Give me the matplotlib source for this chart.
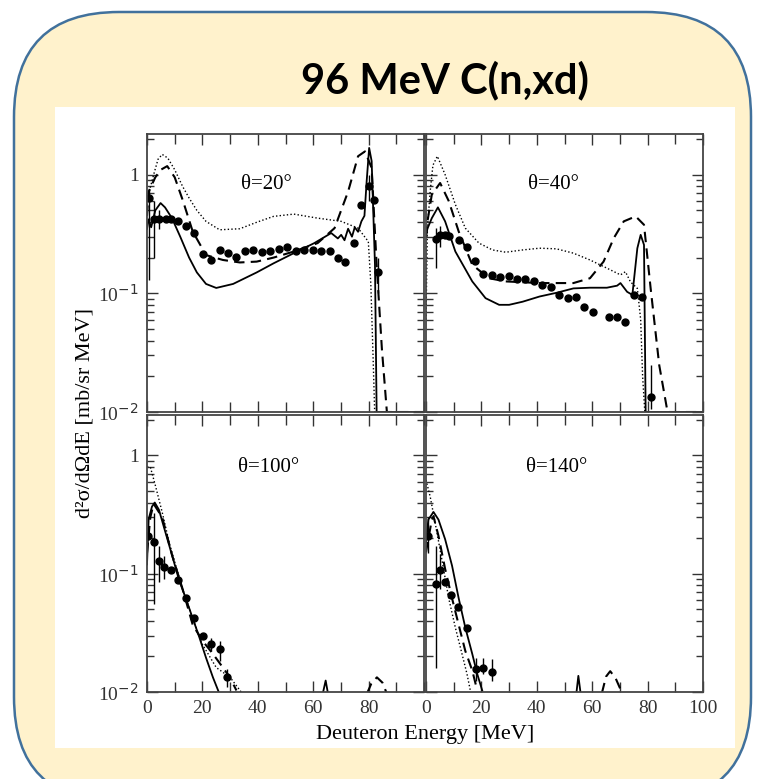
import matplotlib
matplotlib.use("Agg")
import matplotlib.pyplot as plt
from matplotlib.patches import FancyBboxPatch, Rectangle
from matplotlib.ticker import LogLocator, MultipleLocator, FixedFormatter, FixedLocator

plt.rcParams['font.family'] = ['Liberation Serif', 'DejaVu Serif']
nan = float('nan')

# --- dane: theta = 20 stopni ---
e20_dot = [0, 1, 2.4, 4, 5.5, 7.5, 10, 12.8, 15.2, 18, 21.3, 26.2, 33.5, 40, 45.7, 53, 61.6, 70.1, 76.2, 79.9, 80.8, 81.6, 82.2, 100]
s20_dot = [0.55, 0.75, 1.0, 1.35, 1.48, 1.38, 1.1, 0.8, 0.635, 0.5, 0.404, 0.343, 0.35, 0.4, 0.445, 0.465, 0.43, 0.404, 0.354, 0.273, 0.12, 0.03, 0.01, 0.01]
e20_dash = [0, 0.6, 3, 5, 7.3, 10, 13, 16.5, 21.3, 27.4, 33.5, 39.6, 45.7, 53, 61.6, 67.7, 72.6, 76.2, 78.7, 81.1, 82.9, 84.8, 86.6, 100]
s20_dash = [0.45, 0.72, 0.95, 1.1, 1.18, 0.95, 0.6, 0.332, 0.21, 0.191, 0.182, 0.185, 0.2, 0.225, 0.265, 0.354, 0.72, 1.43, 1.57, 1.14, 0.174, 0.034, 0.01, 0.01]
e20_sol = [0, 0.6, 1.5, 3, 4.9, 6.5, 9, 12, 15.2, 18, 21.3, 25, 31.1, 39.6, 45.7, 53, 60.4, 66.5, 68.9, 70.1, 71.3, 72.6, 74, 75, 76.2, 77.4, 78.5, 79.3, 80.2, 81.1, 82.3, 82.9, 100]
s20_sol = [0.35, 0.42, 0.36, 0.5, 0.576, 0.53, 0.43, 0.3, 0.2, 0.15, 0.12, 0.111, 0.12, 0.15, 0.179, 0.218, 0.265, 0.322, 0.29, 0.311, 0.28, 0.35, 0.3, 0.36, 0.33, 0.404, 0.45, 0.88, 1.68, 1.3, 0.174, 0.01, 0.01]
e20_pkt = [0.6, 2.4, 4.5, 6.7, 8.5, 11.3, 14.0, 17.1, 20.1, 23.2, 26.2, 29.3, 32.3, 35.4, 38.4, 41.5, 44.5, 47.6, 50.6, 53.7, 56.7, 59.8, 62.8, 65.9, 68.9, 71.3, 74.6, 77.4, 80.2, 82.0, 83.5]
s20_pkt = [0.635, 0.425, 0.425, 0.425, 0.425, 0.409, 0.371, 0.322, 0.213, 0.191, 0.231, 0.218, 0.204, 0.228, 0.231, 0.225, 0.228, 0.237, 0.248, 0.228, 0.232, 0.234, 0.229, 0.229, 0.2, 0.182, 0.268, 0.558, 0.80, 0.615, 0.152]
e20_err = [0.6, 2.4, 4.5, 80.2, 83.5]
lo20_err = [0.13, 0.2, 0.35, 0.6, 0.1]
hi20_err = [0.75, 0.6, 0.5, 1.0, 0.2]

# --- dane: theta = 40 stopni ---
e40_dot = [0, 0.5, 1.5, 2.5, 4.1, 6.9, 10.6, 14.2, 19.1, 24, 28.8, 34.9, 41, 47.1, 53.2, 59.2, 65.3, 70.2, 72, 73.8, 76.3, 77.5, 78.2, 79, 100]
s40_dot = [0.06, 0.35, 0.72, 1.2, 1.43, 1.0, 0.56, 0.354, 0.265, 0.232, 0.222, 0.232, 0.24, 0.237, 0.218, 0.191, 0.163, 0.143, 0.152, 0.125, 0.11, 0.06, 0.02, 0.01, 0.01]
e40_dash = [0, 0.5, 2.1, 5.1, 8.2, 11.8, 16.7, 22.7, 28.8, 41, 53.2, 59.2, 64.1, 67.8, 71.4, 75.7, 78.7, 81.1, 84.2, 87.2, 100]
s40_dash = [0.3, 0.4, 0.68, 0.85, 0.6, 0.332, 0.174, 0.134, 0.126, 0.122, 0.122, 0.134, 0.185, 0.292, 0.404, 0.445, 0.378, 0.11, 0.0248, 0.01, 0.01]
e40_sol = [0, 0.5, 2.1, 4.3, 6.9, 10.6, 16.7, 21.5, 26.4, 30, 34.9, 41, 47.1, 53.2, 59.2, 65.3, 69, 70.2, 72.6, 74.5, 76.3, 77.5, 78.7, 79.3, 100]
s40_sol = [0.3, 0.35, 0.43, 0.53, 0.404, 0.225, 0.126, 0.091, 0.08, 0.08, 0.085, 0.094, 0.101, 0.11, 0.1115, 0.1115, 0.116, 0.122, 0.103, 0.097, 0.24, 0.311, 0.256, 0.01, 0.01]
e40_pkt = [3.6, 5.1, 6.7, 8.2, 11.8, 14.8, 17.6, 20.7, 23.7, 26.8, 29.8, 32.8, 35.9, 38.9, 42, 45, 48.1, 51.1, 54.1, 57.2, 60.2, 65.9, 69, 72, 75.1, 78.1, 81.1]
s40_pkt = [0.288, 0.311, 0.311, 0.307, 0.283, 0.248, 0.188, 0.145, 0.143, 0.138, 0.14, 0.131, 0.131, 0.126, 0.118, 0.114, 0.097, 0.091, 0.094, 0.077, 0.070, 0.0635, 0.0635, 0.057, 0.097, 0.094, 0.0134]
e40_err = [3.6, 5.1, 81.1]
lo40_err = [0.163, 0.248, 0.0107]
hi40_err = [0.355, 0.366, 0.0248]

# --- dane: theta = 100 stopni (nan = przerwa w linii) ---
e100_dot = [0, 1.2, 3, 5.5, 8, 10.4, 12.8, 16.5, 20, 25, 30, 34]
s100_dot = [0.8, 0.8, 0.56, 0.33, 0.184, 0.117, 0.075, 0.042, 0.0253, 0.0161, 0.0133, 0.01]
e100_dash = [0, 1.2, 2.4, 5.5, 9.1, 12.8, 16.5, 20.1, 23.8, 27.4, 29.9, 32.3, nan, 79.5, 81, 83, 85, 86.5]
s100_dash = [0.15, 0.3, 0.39, 0.3, 0.142, 0.075, 0.037, 0.027, 0.021, 0.0161, 0.0133, 0.0103, nan, 0.0098, 0.0118, 0.0133, 0.012, 0.0098]
e100_sol = [0, 0.6, 1.8, 2.8, 4.3, 6.7, 9.1, 11.6, 14, 16.5, 18.9, 21.3, 23.8, 25.9, nan, 63.5, 64.5, 65.3]
s100_sol = [0.12, 0.29, 0.37, 0.40, 0.348, 0.222, 0.142, 0.088, 0.062, 0.042, 0.029, 0.0195, 0.0133, 0.01, nan, 0.0098, 0.0125, 0.0098]
e100_pkt = [0.3, 2.7, 4.5, 6.3, 8.5, 11.3, 14, 17.1, 20.1, 23.2, 26.2, 29]
s100_pkt = [0.209, 0.184, 0.129, 0.114, 0.107, 0.088, 0.062, 0.042, 0.030, 0.0253, 0.0229, 0.0133]
e100_err = [2.7, 4.5, 6.3, 23.2, 26.2, 29]
lo100_err = [0.056, 0.085, 0.091, 0.0222, 0.0183, 0.011]
hi100_err = [0.326, 0.172, 0.142, 0.0287, 0.027, 0.0157]

# --- dane: theta = 140 stopni ---
e140_dot = [0, 1.5, 3.3, 5.7, 8.2, 10.6, 13, 14.8, 16]
s140_dot = [0.62, 0.45, 0.27, 0.133, 0.062, 0.035, 0.021, 0.0142, 0.0103]
e140_dash = [0, 2.1, 2.7, 4.5, 6.9, 9.4, 11.8, 14.2, 16.7, 18.5, nan, 63.5, 65, 66.5, 68.5, 70.8]
s140_dash = [0.152, 0.287, 0.306, 0.209, 0.110, 0.062, 0.037, 0.0222, 0.0152, 0.0103, nan, 0.0098, 0.0135, 0.015, 0.013, 0.0098]
e140_sol = [0, 0.85, 2.7, 4.5, 6.9, 9.4, 11.8, 14.2, 16.7, 18.5, 20.3, nan, 54.3, 55, 55.8]
s140_sol = [0.184, 0.287, 0.333, 0.287, 0.196, 0.117, 0.062, 0.035, 0.021, 0.0142, 0.0103, nan, 0.0098, 0.0137, 0.0098]
e140_pkt = [0.6, 3.6, 5.1, 6.9, 9.1, 11.4, 14.8, 17.9, 20.6, 23.7]
s140_pkt = [0.209, 0.0825, 0.107, 0.085, 0.066, 0.0527, 0.035, 0.0157, 0.0161, 0.0147]
e140_err = [0.6, 3.6, 5.1, 17.9, 20.6, 23.7]
lo140_err = [0.15, 0.0161, 0.075, 0.0125, 0.0142, 0.0125]
hi140_err = [0.3, 0.172, 0.147, 0.0195, 0.0195, 0.019]

katy = ['θ=20°', 'θ=40°', 'θ=100°', 'θ=140°']
x_etykiety = ['0', '20', '40', '60', '80', '100']
y_etykiety = ['10$^{-2}$', '10$^{-1}$', '1']

W, H = 761, 779
fig = plt.figure(figsize=(W / 100, H / 100), dpi=100)

# tlo: zaokraglona ramka i bialy prostokat
bg = fig.add_axes([0, 0, 1, 1])
bg.set_xlim(0, W)
bg.set_ylim(H, 0)
bg.axis('off')
bg.add_patch(FancyBboxPatch((14, 12), 737, 790, boxstyle="round,pad=0,rounding_size=105",
                            facecolor='#FFF2CC', edgecolor='#41719C', linewidth=1.8))
bg.add_patch(Rectangle((55, 107), 680, 641, facecolor='white', edgecolor='none'))
bg.text(445, 80, '96 MeV C(n,xd)', family=['Lato', 'DejaVu Sans'], fontweight='bold',
        fontsize=30, ha='center', va='center')


def px(x0, y0, x1, y1):
    # prostokat w pikselach -> wspolrzedne figury
    return [x0 / W, 1 - y1 / H, (x1 - x0) / W, (y1 - y0) / H]


pozycje = [px(147, 134, 424, 412), px(426, 134, 703, 412),
           px(147, 415, 424, 692), px(426, 415, 703, 692)]
dane = [
    (e20_dot, s20_dot, e20_dash, s20_dash, e20_sol, s20_sol, e20_pkt, s20_pkt, e20_err, lo20_err, hi20_err),
    (e40_dot, s40_dot, e40_dash, s40_dash, e40_sol, s40_sol, e40_pkt, s40_pkt, e40_err, lo40_err, hi40_err),
    (e100_dot, s100_dot, e100_dash, s100_dash, e100_sol, s100_sol, e100_pkt, s100_pkt, e100_err, lo100_err, hi100_err),
    (e140_dot, s140_dot, e140_dash, s140_dash, e140_sol, s140_sol, e140_pkt, s140_pkt, e140_err, lo140_err, hi140_err),
]
tytul_xy = [(0.43, 0.82), (0.46, 0.82), (0.44, 0.81), (0.47, 0.81)]

for i in range(4):
    ax = fig.add_axes(pozycje[i])
    ed, sd, eda, sda, es, ss, ep, sp, ee, lo, hi = dane[i]
    ax.plot(ed, sd, color='black', lw=1.0, linestyle=(0, (1, 1.6)))
    ax.plot(eda, sda, color='black', lw=1.5, linestyle=(0, (5, 3)))
    ax.plot(es, ss, color='black', lw=1.3)
    ax.vlines(ee, lo, hi, color='black', lw=1.0)
    ax.plot(ep, sp, 'o', color='black', markersize=5)
    ax.set_yscale('log')
    ax.set_xlim(0, 100)
    ax.set_ylim(0.01, 2.2)
    ax.xaxis.set_major_locator(MultipleLocator(20))
    ax.xaxis.set_minor_locator(MultipleLocator(10))
    ax.yaxis.set_major_locator(FixedLocator([0.01, 0.1, 1]))
    ax.yaxis.set_minor_locator(LogLocator(base=10, subs=range(2, 10)))
    ax.tick_params(which='both', direction='in', top=True, right=True, colors='#333333', width=1)
    ax.tick_params(which='major', length=8)
    ax.tick_params(which='minor', length=5)
    ax.tick_params(axis='x', which='minor', length=7)
    ax.tick_params(labelsize=14, pad=6)
    for s in ax.spines.values():
        s.set_color('#444444')
        s.set_linewidth(1.3)
    if i % 2 == 0:
        ax.yaxis.set_major_formatter(FixedFormatter(y_etykiety))
    else:
        ax.set_yticklabels([])
    if i >= 2:
        if i == 2:
            ax.set_xticks([0, 20, 40, 60, 80])
            ax.set_xticklabels(x_etykiety[:5])
        else:
            ax.set_xticks([0, 20, 40, 60, 80, 100])
            ax.set_xticklabels(x_etykiety)
    else:
        ax.set_xticklabels([])
    ax.text(tytul_xy[i][0], tytul_xy[i][1], katy[i], transform=ax.transAxes,
            fontsize=15, ha='center', va='center')

fig.text(85 / W, 1 - 413 / H, 'd²σ/dΩdE [mb/sr MeV]', rotation=90, fontsize=16,
         ha='center', va='center')
fig.text(425 / W, 1 - 734 / H, 'Deuteron Energy [MeV]', fontsize=16, ha='center', va='center')

fig.savefig('out.png', dpi=100)
